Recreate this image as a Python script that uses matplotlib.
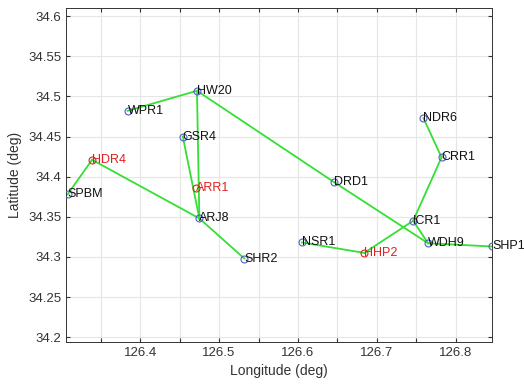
import matplotlib
matplotlib.use('Agg')
import matplotlib.pyplot as plt
import numpy as np

plt.rcParams['font.family'] = ['Liberation Sans', 'DejaVu Sans']

# stations ------------------------------------------------------------------
names = ['HW20', 'WPR1', 'GSR4', 'HDR4', 'ARR1', 'SPBM', 'ARJ8', 'SHR2',
         'NSR1', 'HHP2', 'DRD1', 'ICR1', 'WDH9', 'SHP1', 'NDR6', 'CRR1']
lon = [126.472, 126.384, 126.454, 126.339, 126.471, 126.308, 126.475, 126.532,
       126.605, 126.684, 126.646, 126.746, 126.765, 126.846, 126.759, 126.782]
lat = [34.507, 34.482, 34.450, 34.421, 34.386, 34.378, 34.348, 34.298,
       34.318, 34.305, 34.393, 34.345, 34.317, 34.313, 34.473, 34.424]
red_names = ['HDR4', 'ARR1', 'HHP2']

edges = [('WPR1', 'HW20'), ('HW20', 'ARJ8'), ('HW20', 'DRD1'), ('DRD1', 'WDH9'),
         ('GSR4', 'ARJ8'), ('SPBM', 'HDR4'), ('HDR4', 'ARJ8'), ('ARJ8', 'SHR2'),
         ('NSR1', 'HHP2'), ('HHP2', 'ICR1'), ('ICR1', 'WDH9'), ('WDH9', 'SHP1'),
         ('NDR6', 'CRR1'), ('CRR1', 'ICR1')]
#------------------------------------------------------------------------------

pos = {n: (x, y) for n, x, y in zip(names, lon, lat)}

fig = plt.figure(figsize=(5.24, 3.86), dpi=100)
ax = fig.add_axes([0.126, 0.114, 0.813, 0.865])

for a, b in edges:
    ax.plot([pos[a][0], pos[b][0]], [pos[a][1], pos[b][1]], color='#33e033', lw=1.3, zorder=2)

for n in names:
    x, y = pos[n]
    c = '#e02020' if n in red_names else '#5060c0'
    ax.plot(x, y, 'o', mfc='none', mec=c, ms=5, mew=0.8, zorder=3)
    ax.text(x, y, n, color='#e02020' if n in red_names else '#111111',
            fontsize=9, va='center', ha='left', zorder=4)

ax.set_xlim(126.306, 126.846)
ax.set_ylim(34.194, 34.61)
xt = np.round(np.arange(126.35, 126.85, 0.05), 2)
ax.set_xticks(xt)
ax.set_xticklabels(['%g' % v if abs(v * 10 - round(v * 10)) < 1e-6 else '' for v in xt])
yt = np.round(np.arange(34.2, 34.61, 0.05), 2)
ax.set_yticks(yt)
ax.set_yticklabels(['%g' % v for v in yt])
ax.grid(True, color='#e6e6e6', lw=0.8)
ax.set_axisbelow(True)
ax.tick_params(direction='in', top=True, right=True, labelsize=9.5, colors='#333333', length=3)
for s in ax.spines.values():
    s.set_color('#333333')
    s.set_linewidth(0.7)
ax.set_xlabel('Longitude (deg)', fontsize=10, color='#333333')
ax.set_ylabel('Latitude (deg)', fontsize=10, color='#333333')

plt.savefig('out.png', dpi=100)
